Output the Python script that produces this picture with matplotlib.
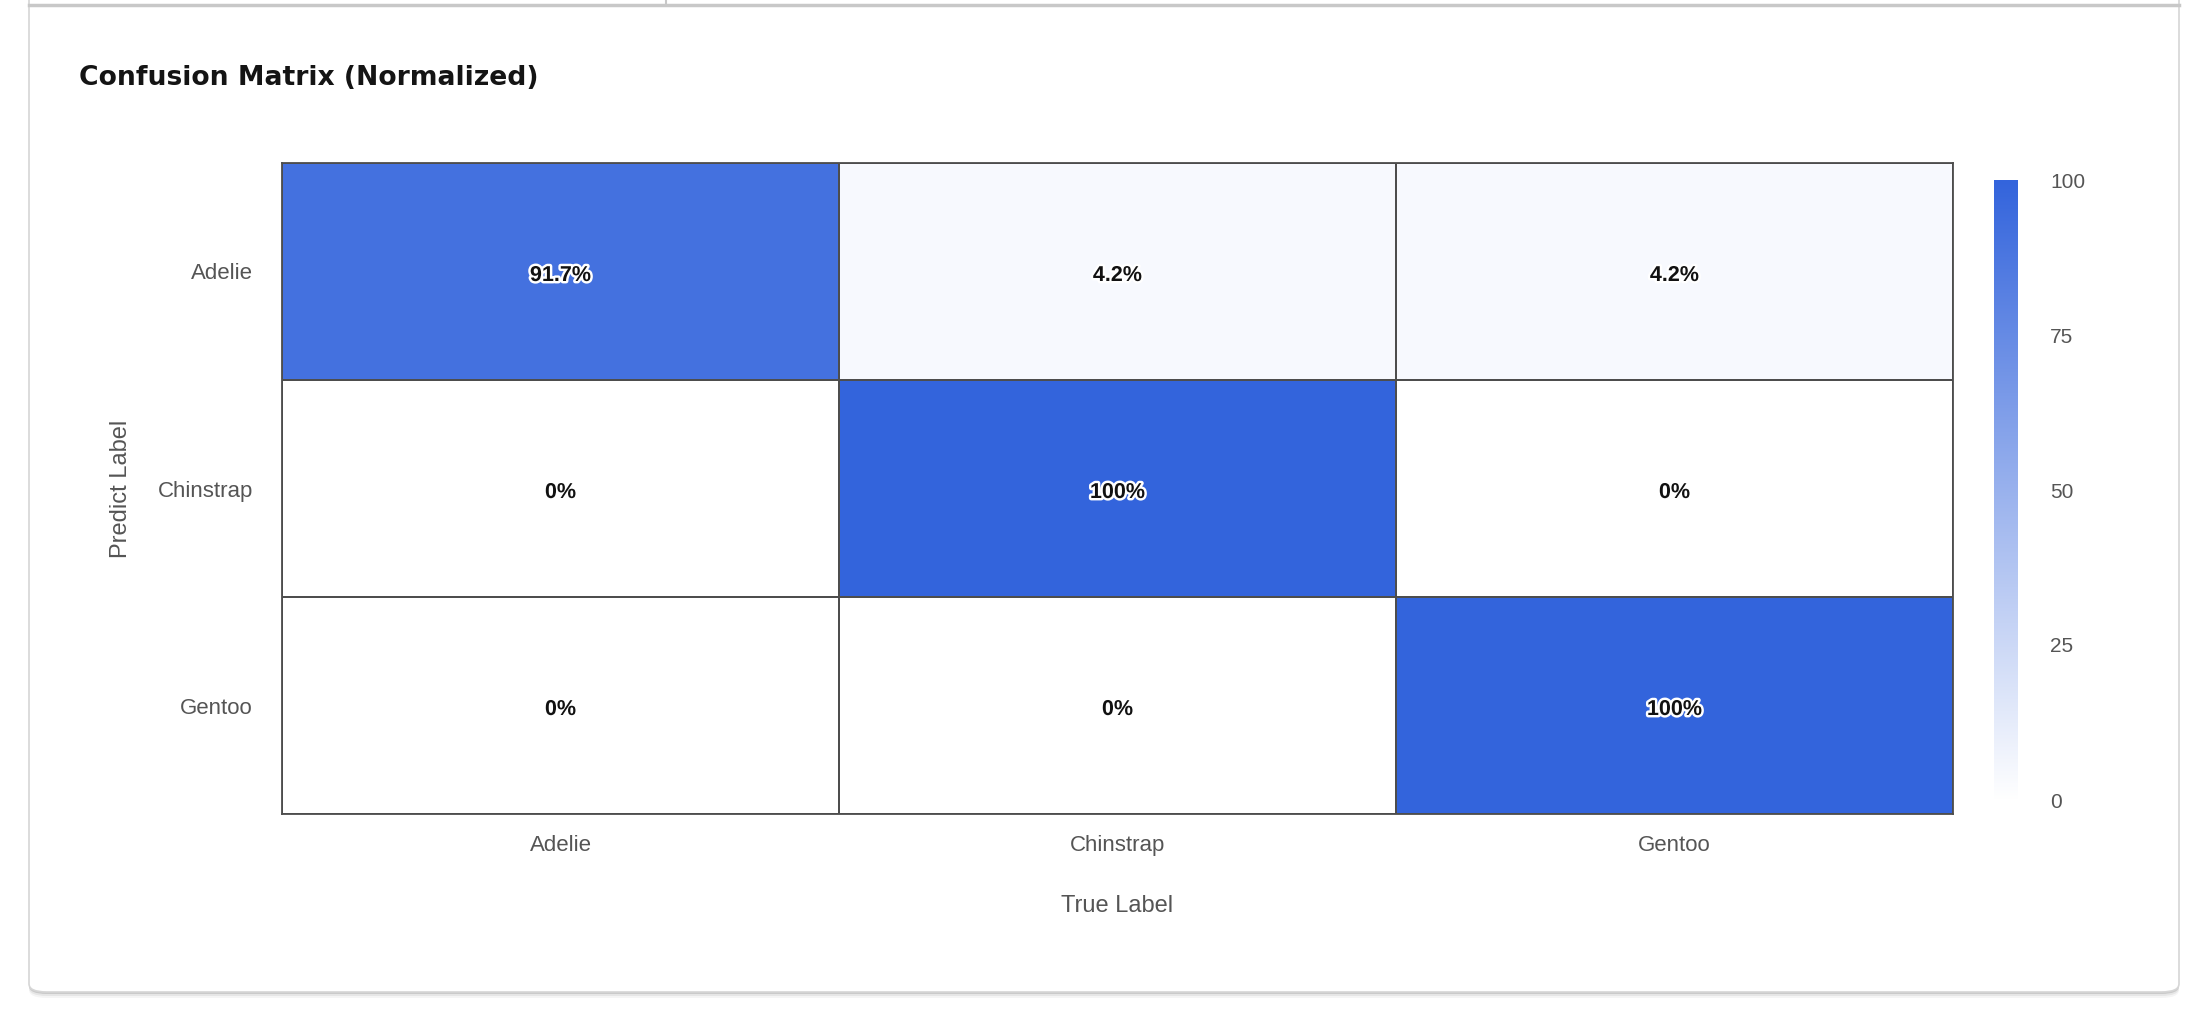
import numpy as np
import matplotlib
matplotlib.use('Agg')
import matplotlib.pyplot as plt
import matplotlib.patheffects as pe
import matplotlib.transforms as mtransforms
from matplotlib.colors import LinearSegmentedColormap
from matplotlib.patches import FancyBboxPatch
from matplotlib.lines import Line2D

# data
classes = ['Adelie', 'Chinstrap', 'Gentoo']
# rows = predicted label, columns = true label (percent)
cm_pct = np.array([
    [91.7, 4.2, 4.2],
    [0.0, 100.0, 0.0],
    [0.0, 0.0, 100.0],
])
cbar_ticks = [0, 25, 50, 75, 100]

W, H = 2208, 1018
fig = plt.figure(figsize=(W / 100, H / 100), dpi=100)
fig.patch.set_facecolor('white')


def fx(x):
    return x / W


def fy(y):
    return 1 - y / H


# card background with a soft shadow (kept behind the axes)
for off, a in [(6, 0.04), (4, 0.06), (2, 0.12)]:
    fig.patches.append(FancyBboxPatch(
        (fx(29), fy(992 + off)), fx(2179) - fx(29), fy(-40) - fy(992 + off),
        boxstyle='round,pad=0,rounding_size=0.008', transform=fig.transFigure,
        facecolor=(0, 0, 0, a), edgecolor='none', zorder=-3))
fig.patches.append(FancyBboxPatch(
    (fx(29), fy(992)), fx(2179) - fx(29), fy(-40) - fy(992),
    boxstyle='round,pad=0,rounding_size=0.008', transform=fig.transFigure,
    facecolor='white', edgecolor='#d6d6d6', linewidth=1.2, zorder=-2))
# tab strip line at the top
fig.lines.append(Line2D([fx(29), fx(2179)], [fy(5), fy(5)], transform=fig.transFigure,
                        color='#c8c8c8', linewidth=2.5, zorder=-1))
fig.lines.append(Line2D([fx(666), fx(666)], [fy(0), fy(5)], transform=fig.transFigure,
                        color='#c8c8c8', linewidth=1.5, zorder=-1))

fig.text(fx(79), fy(78), 'Confusion Matrix (Normalized)', fontsize=19.2, fontweight='bold',
         color='#141414', va='center', ha='left', family='DejaVu Sans')

cmap = LinearSegmentedColormap.from_list('blues', ['#ffffff', '#3364dc'])

ax = fig.add_axes([fx(282), fy(814), fx(1953) - fx(282), fy(163) - fy(814)])
mesh = ax.pcolormesh(cm_pct, cmap=cmap, vmin=0, vmax=100,
                     edgecolors='#4d4d4d', linewidth=1.3)
ax.set_xlim(0, 3)
ax.set_ylim(3, 0)
for s in ax.spines.values():
    s.set_edgecolor('#4d4d4d')
    s.set_linewidth(1.3)

# nudge the cell labels down a little
txt_tr = ax.transData + mtransforms.ScaledTranslation(0, -4 / 100, fig.dpi_scale_trans)
for i in range(len(classes)):
    for j in range(len(classes)):
        v = cm_pct[i, j]
        ax.text(j + 0.5, i + 0.5, f'{v:g}%', ha='center', va='center', transform=txt_tr,
                fontsize=15.5, fontweight='bold', color='#111111', family='Liberation Sans',
                path_effects=[pe.withStroke(linewidth=3.5, foreground='white')])

ax.set_xticks(np.arange(len(classes)) + 0.5)
ax.set_xticklabels(classes)
ax.set_yticks(np.arange(len(classes)) + 0.5)
ax.set_yticklabels(classes)
ax.tick_params(length=0, labelsize=16, labelcolor='#555555')
ax.tick_params(axis='x', pad=15)
ax.tick_params(axis='y', pad=21)
for lab in ax.get_xticklabels() + ax.get_yticklabels():
    lab.set_family('Liberation Sans')

ax.set_xlabel('True Label', fontsize=17, color='#555555', family='Liberation Sans', labelpad=28)
ax.set_ylabel('Predict Label', fontsize=17, color='#555555', family='Liberation Sans', labelpad=18)

# colorbar
cax = fig.add_axes([fx(1994), fy(800), fx(2018) - fx(1994), fy(180) - fy(800)])
grad = np.linspace(0, 100, 256).reshape(-1, 1)
cax.imshow(grad, aspect='auto', cmap=cmap, vmin=0, vmax=100, origin='lower',
           extent=[0, 1, 0, 100])
cax.set_xticks([])
cax.yaxis.tick_right()
cax.set_yticks(cbar_ticks)
cax.tick_params(length=0, labelsize=15, labelcolor='#555555', pad=23)
for lab in cax.get_yticklabels():
    lab.set_family('Liberation Sans')
for s in cax.spines.values():
    s.set_visible(False)

fig.savefig('out.png', dpi=100, facecolor='white')
